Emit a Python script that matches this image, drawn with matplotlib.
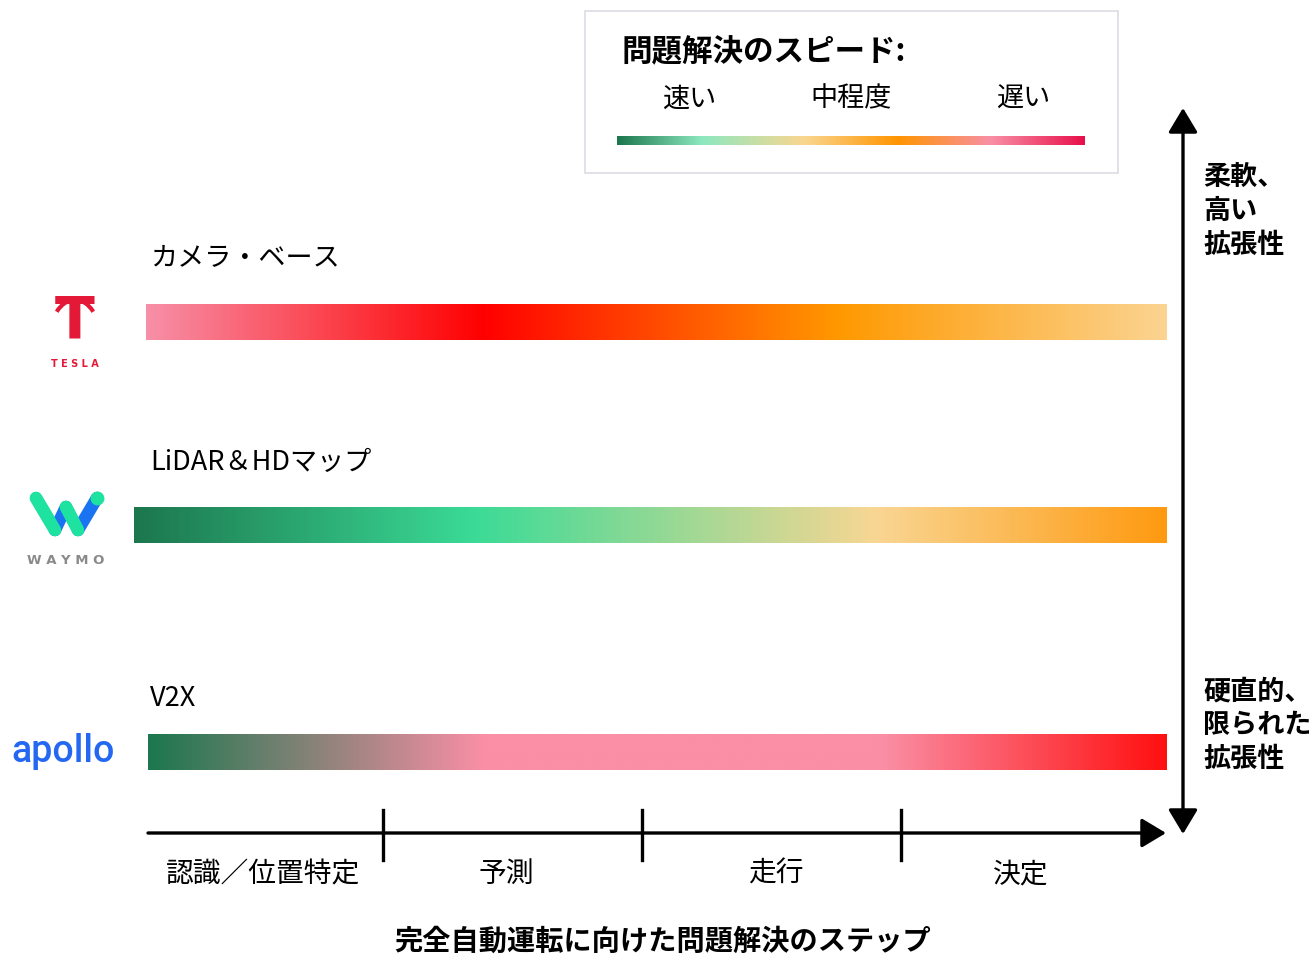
"""
Diagram: problem-solving speed of three autonomous driving approaches
across the perception -> decision pipeline.
"""
import numpy as np
import matplotlib.pyplot as plt
from matplotlib.colors import LinearSegmentedColormap
from matplotlib.patches import Rectangle, FancyArrowPatch, Arc

plt.rcParams['font.family'] = ['Noto Sans CJK JP', 'DejaVu Sans']

# ---- data -------------------------------------------------------------
row_labels = ["カメラ・ベース", "LiDAR＆HDマップ", "V2X"]

# gradient stops (position along the pipeline, colour) for each approach
camera_pos = [0.0, 0.33, 0.68, 1.0]
camera_col = ["#F78FA7", "#FF0000", "#FF9900", "#FBD491"]
lidar_pos = [0.0, 0.33, 0.72, 1.0]
lidar_col = ["#1C774E", "#3BDB97", "#F9D693", "#FF9A10"]
v2x_pos = [0.0, 0.33, 0.72, 1.0]
v2x_col = ["#1C774E", "#FA8FA6", "#FA8FA6", "#FF1010"]

legend_title = "問題解決のスピード:"
legend_labels = ["速い", "中程度", "遅い"]
legend_pos = [0.0, 0.18, 0.40, 0.60, 0.80, 1.0]
legend_col = ["#1C774E", "#8DE8C0", "#FAD690", "#FF9500", "#F88FA5", "#E8104A"]

steps = ["認識／位置特定", "予測", "走行", "決定"]
axis_title = "完全自動運転に向けた問題解決のステップ"
top_note = "柔軟、\n高い\n拡張性"
bottom_note = "硬直的、\n限られた\n拡張性"


def gradient_bar(ax, x0, x1, y0, y1, pos, cols):
    cmap = LinearSegmentedColormap.from_list("g", list(zip(pos, cols)))
    ax.imshow(np.linspace(0, 1, 512)[None, :], cmap=cmap, aspect="auto",
              extent=[x0, x1, y1, y0], interpolation="bilinear")


fig = plt.figure(figsize=(13.09, 9.56), dpi=100)
ax = fig.add_axes([0, 0, 1, 1])

# ---- legend box -------------------------------------------------------
ax.add_patch(Rectangle((585, 11), 533, 162, fill=False, ec="#DCDCE4", lw=1.2))
ax.text(622, 52, legend_title, fontsize=22, fontweight="bold", va="center")
for lab, xc in zip(legend_labels, [689, 851, 1023]):
    ax.text(xc, 99, lab, fontsize=19.5, ha="center", va="center")
gradient_bar(ax, 617, 1085, 136, 145, legend_pos, legend_col)

# ---- approach bars ----------------------------------------------------
bars = [(146, 304, camera_pos, camera_col),
        (134, 507, lidar_pos, lidar_col),
        (148, 734, v2x_pos, v2x_col)]
label_y = [258, 462, 698]
for (x0, y0, pos, cols), lab, ly in zip(bars, row_labels, label_y):
    gradient_bar(ax, x0, 1167, y0, y0 + 36, pos, cols)
    ax.text(150, ly, lab, fontsize=19.5, va="center")

# ---- logos (approximated) ---------------------------------------------
ax.text(75, 322, "T", fontsize=42, fontweight="bold", color="#E31937",
        ha="center", va="center", family="DejaVu Sans")
ax.add_patch(Arc((75, 330), 46, 60, theta1=225, theta2=315, color="#E31937", lw=3))
ax.text(75, 364, "T E S L A", fontsize=7, fontweight="bold", color="#E31937",
        ha="center", va="center", family="DejaVu Sans")
w_pts = [(36, 498), (55, 530), (66, 507), (78, 530), (97, 498)]
for (xa, ya), (xb, yb), c in zip(w_pts[:-1], w_pts[1:],
                                 ["#1EE3A0", "#1A73F0", "#1EE3A0", "#1A73F0"]):
    ax.plot([xa, xb], [ya, yb], color=c, lw=9, solid_capstyle="round")
ax.plot([36, 55], [498, 530], color="#1EE3A0", lw=9, solid_capstyle="round")
ax.plot([66, 78], [507, 530], color="#1EE3A0", lw=9, solid_capstyle="round")
ax.plot([97], [498], "o", color="#1EE3A0", ms=9)
ax.text(66, 561, "W A Y M O", fontsize=9.5, fontweight="bold", color="#8A8A8A",
        ha="center", va="center", family="DejaVu Sans")
ax.text(63, 752, "apollo", fontsize=27, fontweight="medium", color="#2468F2",
        ha="center", va="center", family="Roboto")

# ---- horizontal step axis ---------------------------------------------
ax.add_patch(FancyArrowPatch((148, 833), (1166, 833),
                             arrowstyle="-|>,head_length=1.0,head_width=0.6",
                             mutation_scale=15, lw=2.4, color="black",
                             shrinkA=0, shrinkB=0))
tick_x = [383, 642, 901]
for tx in tick_x:
    ax.plot([tx, tx], [810, 860], color="black", lw=2.4)
for lab, xc in zip(steps, [263, 506, 776, 1021]):
    ax.text(xc, 874, lab, fontsize=20, ha="center", va="center")
ax.text(663, 942, axis_title, fontsize=20.3, fontweight="bold",
        ha="center", va="center")

# ---- vertical flexibility axis ----------------------------------------
ax.add_patch(FancyArrowPatch((1183, 108), (1183, 834),
                             arrowstyle="<|-|>,head_length=1.0,head_width=0.6",
                             mutation_scale=15, lw=2.4, color="black",
                             shrinkA=0, shrinkB=0))
ax.text(1203, 164, top_note, fontsize=19.5, fontweight="bold", va="top",
        linespacing=1.24)
ax.text(1203, 678, bottom_note, fontsize=19.5, fontweight="bold", va="top",
        linespacing=1.24)

ax.set_xlim(0, 1309)
ax.set_ylim(956, 0)
ax.axis("off")
fig.savefig("out.png", dpi=100)
